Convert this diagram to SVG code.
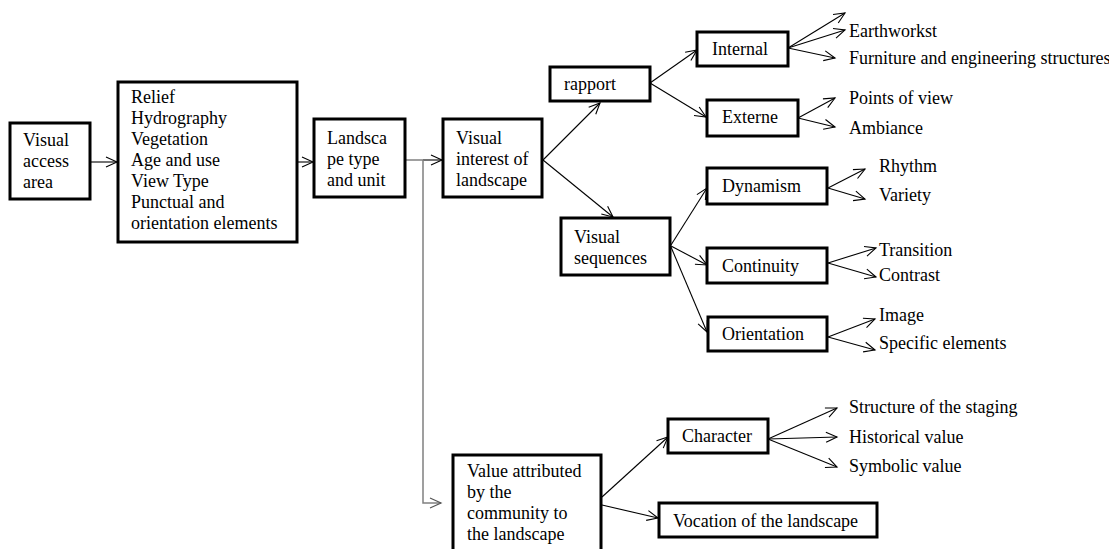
<svg xmlns="http://www.w3.org/2000/svg" width="1109" height="549" viewBox="0 0 1109 549">
<style>
.box{fill:#fff;stroke:#000;stroke-width:3}
text{font-family:'Liberation Serif','DejaVu Serif',serif;font-size:18px;fill:#000}
.c{fill:none;stroke:#000;stroke-width:1.1}
.g{fill:none;stroke:#808080;stroke-width:1.5}
</style>
<defs>
<marker id="a" markerUnits="userSpaceOnUse" markerWidth="14" markerHeight="12" refX="11" refY="5" orient="auto" overflow="visible">
<path d="M0,0 L11,5 L0,10" fill="none" stroke="#000" stroke-width="1.1"/>
</marker>
<marker id="ag" markerUnits="userSpaceOnUse" markerWidth="14" markerHeight="12" refX="11" refY="5" orient="auto" overflow="visible">
<path d="M0,0 L11,5 L0,10" fill="none" stroke="#555" stroke-width="1.2"/>
</marker>
</defs>
<rect width="1109" height="549" fill="#fff"/>
<g id="connectors">
<line class="c" x1="90" y1="162" x2="117" y2="162" marker-end="url(#a)"/>
<line class="c" x1="297" y1="162" x2="313" y2="162" marker-end="url(#a)"/>
<line class="g" x1="405" y1="160" x2="423" y2="160"/>
<line class="c" x1="423" y1="160" x2="442" y2="160" marker-end="url(#a)"/>
<polyline class="g" points="423,160 423,503 441,503" marker-end="url(#ag)"/>
<line class="c" x1="543" y1="160" x2="600" y2="103" marker-end="url(#a)"/>
<line class="c" x1="543" y1="160" x2="613" y2="217" marker-end="url(#a)"/>
<line class="c" x1="650" y1="83" x2="697" y2="50" marker-end="url(#a)"/>
<line class="c" x1="650" y1="83" x2="706" y2="117" marker-end="url(#a)"/>
<line class="c" x1="788" y1="48" x2="845" y2="13" marker-end="url(#a)"/>
<line class="c" x1="788" y1="48" x2="845" y2="30" marker-end="url(#a)"/>
<line class="c" x1="788" y1="48" x2="835" y2="58" marker-end="url(#a)"/>
<line class="c" x1="798" y1="118" x2="835" y2="98" marker-end="url(#a)"/>
<line class="c" x1="798" y1="118" x2="835" y2="127" marker-end="url(#a)"/>
<line class="c" x1="671" y1="245" x2="707" y2="188" marker-end="url(#a)"/>
<line class="c" x1="671" y1="246" x2="707" y2="265" marker-end="url(#a)"/>
<line class="c" x1="671" y1="247" x2="707" y2="332" marker-end="url(#a)"/>
<line class="c" x1="828" y1="188" x2="865" y2="169" marker-end="url(#a)"/>
<line class="c" x1="828" y1="188" x2="865" y2="199" marker-end="url(#a)"/>
<line class="c" x1="828" y1="263" x2="876" y2="248" marker-end="url(#a)"/>
<line class="c" x1="828" y1="263" x2="876" y2="277" marker-end="url(#a)"/>
<line class="c" x1="828" y1="337" x2="875" y2="319" marker-end="url(#a)"/>
<line class="c" x1="828" y1="337" x2="875" y2="350" marker-end="url(#a)"/>
<line class="c" x1="602" y1="497" x2="668" y2="437" marker-end="url(#a)"/>
<line class="c" x1="602" y1="505" x2="658" y2="518" marker-end="url(#a)"/>
<line class="c" x1="768" y1="439" x2="837" y2="408" marker-end="url(#a)"/>
<line class="c" x1="768" y1="439" x2="837" y2="437" marker-end="url(#a)"/>
<line class="c" x1="768" y1="439" x2="837" y2="467" marker-end="url(#a)"/>
</g>
<g id="visual-access-area">
<rect class="box" x="10" y="123" width="80" height="76"/>
<text x="23" y="146">Visual</text>
<text x="23" y="167">access</text>
<text x="23" y="188">area</text>
</g>
<g id="factors">
<rect class="box" x="118" y="82" width="179" height="160"/>
<text x="131" y="103">Relief</text>
<text x="131" y="124">Hydrography</text>
<text x="131" y="145">Vegetation</text>
<text x="131" y="166">Age and use</text>
<text x="131" y="187">View Type</text>
<text x="131" y="208">Punctual and</text>
<text x="131" y="229">orientation elements</text>
</g>
<g id="landscape-type">
<rect class="box" x="314" y="119" width="91" height="78"/>
<text x="327" y="144">Landsca</text>
<text x="327" y="165">pe type</text>
<text x="327" y="186">and unit</text>
</g>
<g id="visual-interest">
<rect class="box" x="443" y="119" width="99" height="78"/>
<text x="456" y="144">Visual</text>
<text x="456" y="165">interest of</text>
<text x="456" y="186">landscape</text>
</g>
<g id="rapport">
<rect class="box" x="550" y="67" width="100" height="34"/>
<text x="564" y="90">rapport</text>
</g>
<g id="internal">
<rect class="box" x="697" y="32" width="91" height="34"/>
<text x="712" y="55">Internal</text>
</g>
<g id="externe">
<rect class="box" x="707" y="100" width="91" height="36"/>
<text x="722" y="123">Externe</text>
</g>
<g id="internal-items">
<text x="849" y="37">Earthworkst</text>
<text x="849" y="64">Furniture and engineering structures</text>
</g>
<g id="externe-items">
<text x="849" y="104">Points of view</text>
<text x="849" y="134">Ambiance</text>
</g>
<g id="visual-sequences">
<rect class="box" x="561" y="218" width="109" height="57"/>
<text x="574" y="243">Visual</text>
<text x="574" y="264">sequences</text>
</g>
<g id="dynamism">
<rect class="box" x="707" y="168" width="120" height="36"/>
<text x="722" y="192">Dynamism</text>
</g>
<g id="continuity">
<rect class="box" x="707" y="248" width="120" height="35"/>
<text x="722" y="272">Continuity</text>
</g>
<g id="orientation">
<rect class="box" x="708" y="317" width="119" height="34"/>
<text x="722" y="340">Orientation</text>
</g>
<g id="dynamism-items">
<text x="879" y="172">Rhythm</text>
<text x="879" y="201">Variety</text>
</g>
<g id="continuity-items">
<text x="879" y="256">Transition</text>
<text x="879" y="281">Contrast</text>
</g>
<g id="orientation-items">
<text x="879" y="321">Image</text>
<text x="879" y="349">Specific elements</text>
</g>
<g id="value-attributed">
<rect class="box" x="453" y="455" width="148" height="100"/>
<text x="467" y="477">Value attributed</text>
<text x="467" y="498">by the</text>
<text x="467" y="519">community to</text>
<text x="467" y="540">the landscape</text>
</g>
<g id="character">
<rect class="box" x="668" y="419" width="100" height="34"/>
<text x="682" y="442">Character</text>
</g>
<g id="character-items">
<text x="849" y="413">Structure of the staging</text>
<text x="849" y="443">Historical value</text>
<text x="849" y="472">Symbolic value</text>
</g>
<g id="vocation">
<rect class="box" x="659" y="503" width="218" height="34"/>
<text x="673" y="527">Vocation of the landscape</text>
</g>
</svg>
